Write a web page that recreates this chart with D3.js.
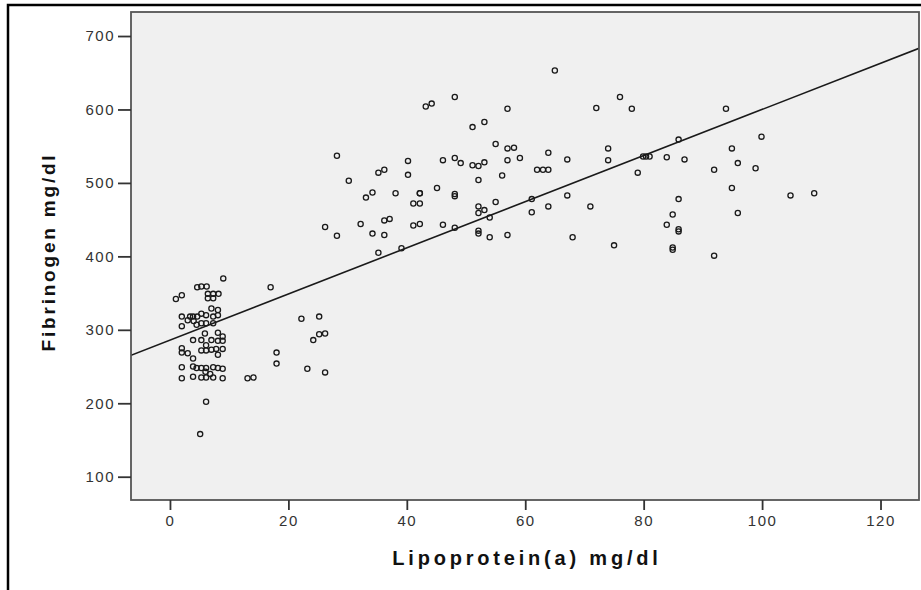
<!DOCTYPE html>
<html>
<head>
<meta charset="utf-8">
<script src="https://cdn.jsdelivr.net/npm/d3@7"></script>
<style>
  body { margin: 0; background: #fff; }
  svg { display: block; }
</style>
</head>
<body>
<svg id="chart" width="921" height="590"></svg>
<script>
// values
const lpa = [
  48.1, 43.2, 44.2, 57.0, 51.1, 53.1, 28.2, 55.0, 57.0, 58.1, 63.9, 40.2, 46.1, 48.1, 49.1, 51.1,
  52.1, 53.1, 57.0, 59.1, 62.0, 63.0, 63.9, 35.2, 36.2, 40.2, 30.2, 52.1, 56.1, 34.2, 33.1, 38.1,
  42.2, 42.2, 45.1, 48.1, 48.1, 41.1, 42.2, 52.1, 53.1, 52.1, 55.0, 61.1, 63.9, 61.1, 54.0, 26.2,
  28.2, 32.2, 34.2, 36.2, 37.1, 36.2, 41.1, 42.2, 46.1, 48.1, 52.1, 52.1, 54.0, 57.0, 35.2, 39.1,
  65.0, 76.0, 72.0, 78.0, 93.9, 99.9, 85.9, 74.0, 74.0, 67.1, 79.9, 80.4, 81.0, 83.9, 86.9, 94.9,
  95.9, 98.9, 91.9, 79.0, 67.1, 71.0, 94.9, 85.9, 104.8, 108.8, 84.9, 95.9, 83.9, 85.9, 85.9, 68.0,
  75.0, 84.9, 84.9, 91.9,
  17.0, 22.2, 25.2, 25.2, 26.2, 24.2, 18.0, 18.0, 23.2, 26.2, 13.1, 14.1,
  6.1, 5.1, 1.0, 2.0, 4.6, 2.0, 3.4, 3.9, 4.6, 2.0, 3.9, 2.0, 2.0, 3.0, 3.9, 2.0, 3.9, 4.5, 2.0, 3.9,
  9.0, 5.3, 6.2, 6.4, 7.3, 8.2, 6.4, 7.3, 7.0, 8.1, 5.3, 6.1, 7.3, 8.1, 5.3, 6.1, 7.3,
  5.9, 8.1, 8.9, 5.3, 6.1, 7.0, 8.1, 8.9, 5.3, 6.1, 7.0, 7.8, 8.9, 8.1,
  5.3, 6.1, 7.3, 8.1, 8.9, 5.3, 6.1, 7.3, 8.9, 3.0, 4.0, 4.5, 6.8, 6.0
];
const fibrinogen = [
  617, 604, 608, 601, 576, 583, 537, 553, 547, 548, 541, 530, 531, 534, 527, 524,
  523, 528, 531, 534, 518, 518, 518, 514, 518, 511, 503, 504, 510, 487, 480, 486,
  486, 486, 493, 485, 482, 472, 472, 468, 463, 459, 474, 478, 468, 460, 453, 440,
  428, 444, 431, 449, 451, 429, 442, 444, 443, 439, 435, 431, 426, 429, 405, 411,
  653, 617, 602, 601, 601, 563, 559, 547, 531, 532, 536, 536, 536, 535, 532, 547,
  527, 520, 518, 514, 483, 468, 493, 478, 483, 486, 457, 459, 443, 437, 434, 426,
  415, 412, 409, 401,
  358, 315, 318, 294, 295, 286, 269, 254, 247, 242, 234, 235,
  202, 158, 342, 347, 358, 318, 318, 318, 318, 305, 286, 275, 269, 268, 261, 249, 250, 248, 234, 236,
  370, 359, 359, 349, 349, 349, 343, 343, 329, 327, 322, 320, 318, 320, 309, 309, 309,
  295, 296, 291, 286, 279, 286, 285, 285, 272, 272, 273, 274, 274, 266,
  248, 248, 249, 248, 247, 235, 235, 235, 234, 313, 312, 307, 240, 243
];
const xTicks = [0, 20, 40, 60, 80, 100, 120];
const yTicks = [100, 200, 300, 400, 500, 600, 700];
// fit line as drawn in the picture
const fitIntercept = 286;
const fitSlope = 3.14;

const svg = d3.select('#chart');
const pLeft = 131, pRight = 919, pTop = 12, pBottom = 500;

const x = d3.scaleLinear().domain([-6.58, 126.5]).range([pLeft, pRight]);
const y = d3.scaleLinear().domain([68.3, 732.7]).range([pBottom, pTop]);

// outer frame
svg.append('rect')
  .attr('x', 8).attr('y', 5)
  .attr('width', 1000).attr('height', 1000)
  .attr('fill', 'none').attr('stroke', '#000').attr('stroke-width', 2.5);

svg.append('clipPath').attr('id', 'plotclip')
  .append('rect')
  .attr('x', pLeft).attr('y', pTop)
  .attr('width', pRight - pLeft).attr('height', pBottom - pTop);

svg.append('rect')
  .attr('x', pLeft).attr('y', pTop)
  .attr('width', pRight - pLeft).attr('height', pBottom - pTop)
  .attr('fill', '#f0f0f0');

const plot = svg.append('g').attr('clip-path', 'url(#plotclip)');

plot.selectAll('circle')
  .data(lpa.map((v, i) => [v, fibrinogen[i]]))
  .join('circle')
  .attr('cx', d => x(d[0]))
  .attr('cy', d => y(d[1]))
  .attr('r', 2.6)
  .attr('fill', 'none')
  .attr('stroke', '#1a1a1a')
  .attr('stroke-width', 1.3);

const xd = x.domain();
plot.append('line')
  .attr('x1', x(xd[0])).attr('y1', y(fitIntercept + fitSlope * xd[0]))
  .attr('x2', x(xd[1])).attr('y2', y(fitIntercept + fitSlope * xd[1]))
  .attr('stroke', '#1a1a1a').attr('stroke-width', 1.6);

svg.append('rect')
  .attr('x', pLeft).attr('y', pTop)
  .attr('width', pRight - pLeft).attr('height', pBottom - pTop)
  .attr('fill', 'none').attr('stroke', '#555').attr('stroke-width', 1.8);

// axes
const xAxis = svg.append('g')
  .attr('transform', `translate(0,${pBottom})`)
  .call(d3.axisBottom(x).tickValues(xTicks).tickSize(10).tickPadding(5));
const yAxis = svg.append('g')
  .attr('transform', `translate(${pLeft},0)`)
  .call(d3.axisLeft(y).tickValues(yTicks).tickSize(13).tickPadding(3));

[xAxis, yAxis].forEach(g => {
  g.select('.domain').remove();
  g.selectAll('.tick line').attr('stroke', '#333').attr('stroke-width', 1.8);
  g.selectAll('.tick text')
    .attr('fill', '#333')
    .style('font-family', 'Liberation Sans, Arial, sans-serif')
    .style('font-size', '15px')
    .style('letter-spacing', '1.5px');
});

svg.append('text')
  .attr('x', 527).attr('y', 565)
  .attr('text-anchor', 'middle')
  .style('font-family', 'Liberation Sans, Arial, sans-serif')
  .style('font-weight', 'bold')
  .style('font-size', '20px')
  .style('letter-spacing', '3.8px')
  .attr('fill', '#111')
  .text('Lipoprotein(a) mg/dl');

svg.append('text')
  .attr('transform', 'translate(55,252) rotate(-90)')
  .attr('text-anchor', 'middle')
  .style('font-family', 'Liberation Sans, Arial, sans-serif')
  .style('font-weight', 'bold')
  .style('font-size', '19px')
  .style('letter-spacing', '2.8px')
  .attr('fill', '#111')
  .text('Fibrinogen mg/dl');
</script>
</body>
</html>
